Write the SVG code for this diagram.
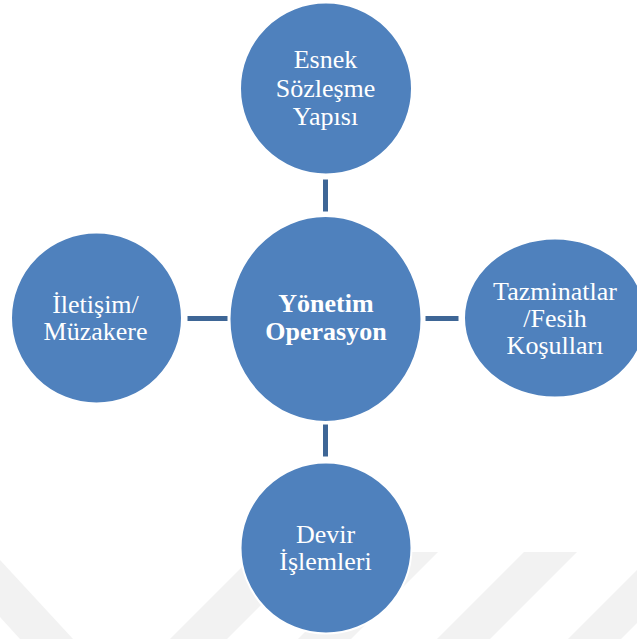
<svg xmlns="http://www.w3.org/2000/svg" width="637" height="639" viewBox="0 0 637 639">
  <style>
    .bubble { fill: #4F81BD; stroke: #FFFFFF; stroke-width: 2; }
    .label { font-size: 26px; fill: #FFFFFF; text-anchor: middle; }
    .bold { font-weight: bold; }
    .link { fill: #3E6696; stroke: #FFFFFF; stroke-width: 1; }
    .mark { fill: #F2F2F2; }
  </style>

  <rect width="637" height="639" fill="#FFFFFF"/>

  <!-- faint background emblem -->
  <g id="emblem">
    <polygon class="mark" points="0,560 73,639 20,639 0,617"/>
    <polygon class="mark" points="170,639 227,639 314,552 257,552"/>
    <polygon class="mark" points="298,639 351,639 438,552 385,552"/>
    <polygon class="mark" points="437,639 490,639 577,552 524,552"/>
    <polygon class="mark" points="568,639 621,639 708,552 655,552"/>
  </g>

  <!-- connectors between hub and satellites -->
  <g id="connectors">
    <rect class="link" x="322.5" y="179" width="6" height="33"/>
    <rect class="link" x="322.5" y="424" width="6" height="33"/>
    <rect class="link" x="187" y="315.5" width="41" height="6"/>
    <rect class="link" x="425" y="315.5" width="34" height="6"/>
  </g>

  <g font-family="'Liberation Serif', 'Times New Roman', serif">
    <g id="node-hub">
      <ellipse class="bubble" cx="325.5" cy="319" rx="96" ry="103"/>
      <text class="label bold" x="326" y="312">Yönetim</text>
      <text class="label bold" x="326" y="340">Operasyon</text>
    </g>

    <g id="node-top">
      <ellipse class="bubble" cx="326" cy="88.5" rx="86" ry="86"/>
      <text class="label" x="325.5" y="68">Esnek</text>
      <text class="label" x="325.5" y="96.5">Sözleşme</text>
      <text class="label" x="325.5" y="125">Yapısı</text>
    </g>

    <g id="node-right">
      <ellipse class="bubble" cx="555" cy="318" rx="91" ry="79.5"/>
      <text class="label" x="555" y="299.5">Tazminatlar</text>
      <text class="label" x="555" y="327">/Fesih</text>
      <text class="label" x="555" y="354">Koşulları</text>
    </g>

    <g id="node-bottom">
      <ellipse class="bubble" cx="326" cy="548" rx="85.5" ry="85.5"/>
      <text class="label" x="325.5" y="543">Devir</text>
      <text class="label" x="325.5" y="570">İşlemleri</text>
    </g>

    <g id="node-left">
      <ellipse class="bubble" cx="96.5" cy="318" rx="85.5" ry="85.5"/>
      <text class="label" x="95.5" y="312.5">İletişim/</text>
      <text class="label" x="95.5" y="339.5">Müzakere</text>
    </g>
  </g>
</svg>
